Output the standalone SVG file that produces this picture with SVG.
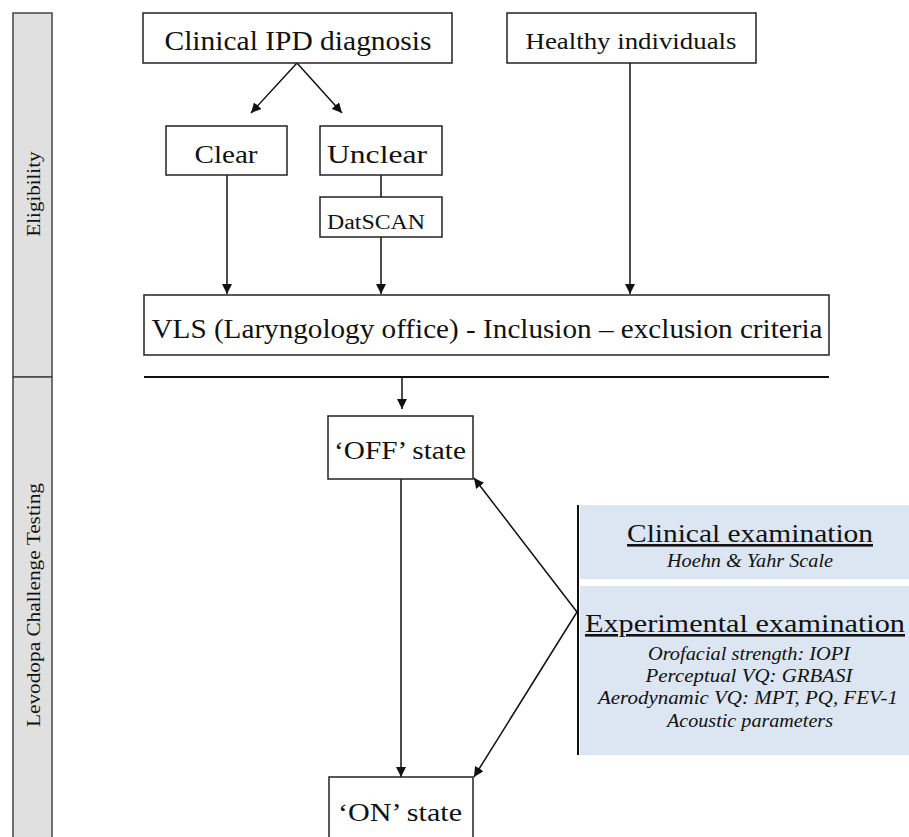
<svg xmlns="http://www.w3.org/2000/svg" width="909" height="837" viewBox="0 0 909 837">
<defs>
<marker id="ah" viewBox="0 0 10 10" refX="10" refY="5" markerWidth="10" markerHeight="10" markerUnits="userSpaceOnUse" orient="auto">
<path d="M0,0 L10,5 L0,10 z" fill="#111"/>
</marker>
<style>
.box{fill:#fff;stroke:#222;stroke-width:1.5}
.t{font-family:"Liberation Serif","Times New Roman",serif;fill:#111;text-anchor:middle}
.it{font-style:italic}
.ln{stroke:#111;stroke-width:1.5;fill:none}
.band{fill:#e0e0e0;stroke:#444;stroke-width:1.5}
.blue{fill:#dce6f2}
</style>
</defs>
<rect width="909" height="837" fill="#fff"/>

<g id="lanes">
<rect class="band" x="13" y="13" width="39" height="364"/>
<rect class="band" x="13" y="377" width="39" height="470"/>
<text class="t" transform="translate(40,194) rotate(-90)" font-size="18" textLength="85" lengthAdjust="spacingAndGlyphs">Eligibility</text>
<text class="t" transform="translate(40,605) rotate(-90)" font-size="19" textLength="244" lengthAdjust="spacingAndGlyphs">Levodopa Challenge Testing</text>
</g>

<g id="connectors">
<line class="ln" x1="297" y1="63" x2="251" y2="113" marker-end="url(#ah)"/>
<line class="ln" x1="297" y1="63" x2="342" y2="113" marker-end="url(#ah)"/>
<line class="ln" x1="227" y1="175" x2="227" y2="294" marker-end="url(#ah)"/>
<line class="ln" x1="381" y1="175" x2="381" y2="197"/>
<line class="ln" x1="381" y1="237" x2="381" y2="294" marker-end="url(#ah)"/>
<line class="ln" x1="630" y1="63" x2="630" y2="294" marker-end="url(#ah)"/>
<line x1="144" y1="377" x2="829" y2="377" stroke="#111" stroke-width="2.2"/>
<line class="ln" x1="402" y1="377" x2="402" y2="409" marker-end="url(#ah)"/>
<line class="ln" x1="401" y1="479" x2="401" y2="777" marker-end="url(#ah)"/>
<line class="ln" x1="577" y1="612" x2="474" y2="478" marker-end="url(#ah)"/>
<line class="ln" x1="577" y1="612" x2="474" y2="777" marker-end="url(#ah)"/>
</g>

<g id="clinical-ipd">
<rect class="box" x="143" y="13" width="309" height="50"/>
<text class="t" x="298" y="50" font-size="28" textLength="267" lengthAdjust="spacingAndGlyphs">Clinical IPD diagnosis</text>
</g>
<g id="healthy">
<rect class="box" x="507" y="13" width="249" height="50"/>
<text class="t" x="631" y="49" font-size="24" textLength="211" lengthAdjust="spacingAndGlyphs">Healthy individuals</text>
</g>
<g id="clear">
<rect class="box" x="166" y="126" width="121" height="49"/>
<text class="t" x="226" y="163" font-size="26" textLength="63" lengthAdjust="spacingAndGlyphs">Clear</text>
</g>
<g id="unclear">
<rect class="box" x="320" y="126" width="122" height="49"/>
<text class="t" x="377" y="163" font-size="26" textLength="100" lengthAdjust="spacingAndGlyphs">Unclear</text>
</g>
<g id="datscan">
<rect class="box" x="320" y="197" width="122" height="40"/>
<text class="t" x="376" y="229" font-size="20" textLength="98" lengthAdjust="spacingAndGlyphs">DatSCAN</text>
</g>
<g id="vls">
<rect class="box" x="144" y="295" width="685" height="60"/>
<text class="t" x="487" y="338" font-size="28" textLength="671" lengthAdjust="spacingAndGlyphs">VLS (Laryngology office) - Inclusion – exclusion criteria</text>
</g>
<g id="off-state">
<rect class="box" x="328" y="416" width="145" height="63"/>
<text class="t" x="400" y="459" font-size="26" textLength="132" lengthAdjust="spacingAndGlyphs">‘OFF’ state</text>
</g>
<g id="on-state">
<rect class="box" x="329" y="777" width="144" height="70"/>
<text class="t" x="400" y="821" font-size="26" textLength="124" lengthAdjust="spacingAndGlyphs">‘ON’ state</text>
</g>
<g id="examinations">
<rect class="blue" x="580" y="505" width="329" height="74"/>
<rect class="blue" x="580" y="586" width="329" height="169"/>
<line x1="578" y1="505" x2="578" y2="755" stroke="#111" stroke-width="2"/>
<text class="t" x="750" y="542" font-size="26" text-decoration="underline" textLength="246" lengthAdjust="spacingAndGlyphs">Clinical examination</text>
<text class="t it" x="750" y="567" font-size="18" textLength="166" lengthAdjust="spacingAndGlyphs">Hoehn &amp; Yahr Scale</text>
<text class="t" x="745" y="632" font-size="26" text-decoration="underline" textLength="320" lengthAdjust="spacingAndGlyphs">Experimental examination</text>
<text class="t it" x="749" y="660" font-size="19" textLength="202" lengthAdjust="spacingAndGlyphs">Orofacial strength: IOPI</text>
<text class="t it" x="749" y="682" font-size="19" textLength="207" lengthAdjust="spacingAndGlyphs">Perceptual VQ: GRBASI</text>
<text class="t it" x="748" y="704" font-size="19" textLength="300" lengthAdjust="spacingAndGlyphs">Aerodynamic VQ: MPT, PQ, FEV-1</text>
<text class="t it" x="750" y="727" font-size="19" textLength="166" lengthAdjust="spacingAndGlyphs">Acoustic parameters</text>
</g>
</svg>
